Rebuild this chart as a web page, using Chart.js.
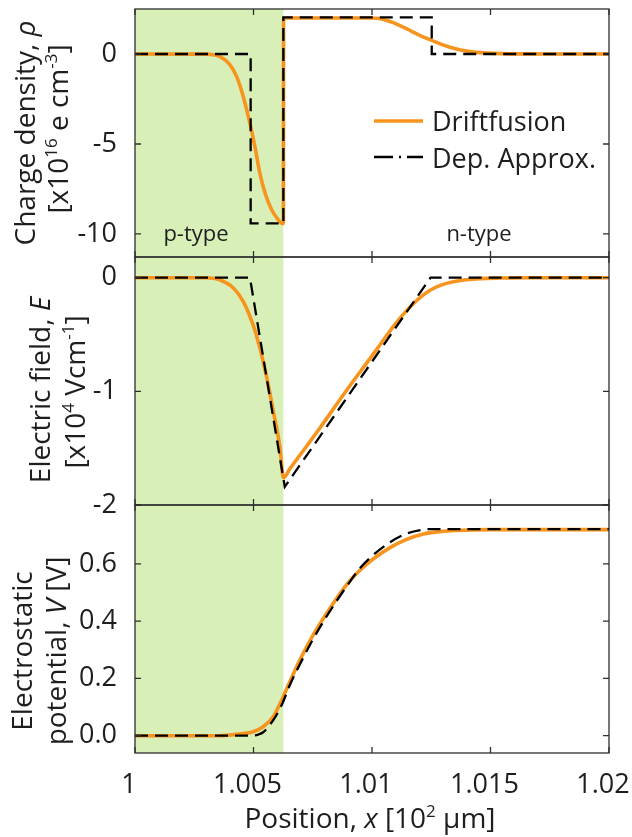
<!DOCTYPE html>
<html>
<head>
<meta charset="utf-8">
<script src="https://cdn.jsdelivr.net/npm/chart.js@4.4.1/dist/chart.umd.min.js"></script>
<style>
  html, body { margin: 0; padding: 0; background: #fff; }
  #wrap { width: 632px; height: 837px; }
</style>
</head>
<body>
<div id="wrap"><canvas id="pn" width="632" height="837"></canvas></div>
<script>
// x axis: position in units of 10^2 um
const xTicks = [1, 1.005, 1.01, 1.015, 1.02];
const xTickLabels = ['1', '1.005', '1.01', '1.015', '1.02'];
const junctionX = 1.00626; // p/n interface, p side shaded

// charge density [x10^16 e cm^-3]
const rhoTicks = [-10, -5, 0];
const rhoDfX = [1.000, 1.0030, 1.0033, 1.00359, 1.00401, 1.00429, 1.00457, 1.00485, 1.00506, 1.00527, 1.00549,
  1.00577, 1.00605, 1.00619, 1.00626, 1.00627, 1.0100, 1.0103, 1.0106, 1.0109, 1.01118, 1.0115, 1.01181, 1.0121,
  1.01252, 1.0129, 1.01329, 1.0137, 1.0140, 1.0144, 1.01484, 1.0155, 1.0165, 1.0175, 1.0200];
const rhoDfY = [0, -0.01, -0.04, -0.15, -0.6, -1.26, -2.37, -3.85, -5.15, -6.63, -7.74,
  -8.67, -9.22, -9.41, -9.42, 2.0, 2.0, 1.97, 1.88, 1.74, 1.58, 1.38, 1.17, 0.98,
  0.76, 0.55, 0.38, 0.24, 0.16, 0.09, 0.05, 0.02, 0.005, 0, 0];
const rhoDaX = [1.000, 1.00488, 1.00488, 1.00626, 1.00626, 1.01252, 1.01252, 1.0200];
const rhoDaY = [0, 0, -9.41, -9.41, 2.03, 2.03, 0, 0];

// electric field [x10^4 V cm^-1]
const eTicks = [-2, -1, 0];
const eDfX = [1.000, 1.0030, 1.0033, 1.00359, 1.00415, 1.00457, 1.00499, 1.00527, 1.00556, 1.00584, 1.00612,
  1.00626, 1.00654, 1.00781, 1.00893, 1.00992, 1.01034, 1.01097, 1.01146, 1.01194, 1.01245, 1.01291, 1.01343,
  1.01397, 1.01456, 1.0154, 1.01667, 1.0200];
const eDfY = [0, 0, -0.005, -0.02, -0.09, -0.21, -0.42, -0.62, -0.88, -1.18, -1.50,
  -1.76, -1.68, -1.32, -0.99, -0.71, -0.59, -0.41, -0.29, -0.19, -0.11, -0.065, -0.035,
  -0.018, -0.008, -0.003, 0, 0];
const eDaX = [1.000, 1.00485, 1.00632, 1.01247, 1.0200];
const eDaY = [0, 0, -1.84, 0, 0];

// electrostatic potential [V]
const vTicks = [0, 0.2, 0.4, 0.6];
const vDfX = [1.000, 1.0036, 1.0042, 1.00499, 1.00541, 1.00584, 1.00619, 1.00654, 1.00696, 1.00752, 1.00809,
  1.00893, 1.00949, 1.01006, 1.01076, 1.01146, 1.01217, 1.01287, 1.01357, 1.01498, 1.0200];
const vDfY = [0, 0, 0.004, 0.014, 0.031, 0.067, 0.125, 0.19, 0.265, 0.352, 0.428,
  0.528, 0.578, 0.618, 0.657, 0.686, 0.705, 0.713, 0.717, 0.72, 0.72];
const vDaX = [1.000, 1.00485, 1.0052, 1.00541, 1.00584, 1.00619, 1.00654, 1.00696, 1.00752, 1.00809, 1.0090,
  1.00949, 1.01006, 1.01076, 1.01146, 1.01217, 1.0125, 1.0200];
const vDaY = [0, 0, 0.004, 0.012, 0.055, 0.107, 0.178, 0.25, 0.338, 0.418, 0.53,
  0.585, 0.632, 0.676, 0.706, 0.72, 0.722, 0.722];

const FONT = '"Open Sans", "DejaVu Sans", sans-serif';
const TEXT = '#1e1e1e';
const ORANGE = '#f7941d';
const SHADE = '#d8f0b8';
const FRAME = '#2e2e2e';

const pts = (xs, ys) => xs.map((x, i) => ({ x: x, y: ys[i] }));

function driftfusion(xs, ys, axis) {
  return {
    label: 'Driftfusion', data: pts(xs, ys), yAxisID: axis,
    borderColor: ORANGE, borderWidth: 3.6, pointRadius: 0,
    cubicInterpolationMode: 'monotone', order: 2
  };
}
function depApprox(xs, ys, axis, smooth) {
  return {
    label: 'Dep. Approx.', data: pts(xs, ys), yAxisID: axis,
    borderColor: '#000', borderWidth: 2.3, borderDash: [13, 7], pointRadius: 0,
    cubicInterpolationMode: smooth ? 'monotone' : 'default', tension: 0, order: 1
  };
}

function panelAxis(min, max, ticks, fmt) {
  return {
    type: 'linear', position: 'left', stack: 'panels', stackWeight: 1,
    min: min, max: max,
    grid: { display: false }, border: { display: false },
    ticks: { font: { family: FONT, size: 27 }, color: TEXT, padding: 10, autoSkip: false, callback: fmt },
    afterBuildTicks: s => { s.ticks = ticks.map(v => ({ value: v })); },
    afterFit: s => { s.width = 135; s.paddingTop = 0; s.paddingBottom = 0; }
  };
}

// draw a line of text with italic / superscript pieces, optionally rotated
function richText(ctx, parts, x, y, size, rotate, align) {
  const fontOf = p => (p[1] === 'i' ? 'italic ' : '') + (p[1] === 'sup' ? Math.round(size * 0.62) : size) + 'px ' + FONT;
  let total = 0;
  const widths = parts.map(p => { ctx.font = fontOf(p); const w = ctx.measureText(p[0]).width; total += w; return w; });
  ctx.save();
  ctx.translate(x, y);
  if (rotate) ctx.rotate(-Math.PI / 2);
  ctx.fillStyle = TEXT;
  ctx.textBaseline = 'alphabetic';
  ctx.textAlign = 'left';
  let cx = align === 'left' ? 0 : -total / 2;
  parts.forEach((p, i) => {
    ctx.font = fontOf(p);
    ctx.fillText(p[0], cx, p[1] === 'sup' ? -size * 0.4 : 0);
    cx += widths[i];
  });
  ctx.restore();
}

const panelDecor = {
  id: 'panelDecor',
  beforeDatasetsDraw(chart) {
    const { ctx, chartArea, scales } = chart;
    const x0 = scales.x.getPixelForValue(1), x1 = scales.x.getPixelForValue(junctionX);
    ctx.save();
    ctx.fillStyle = SHADE;
    ctx.fillRect(x0, chartArea.top, x1 - x0, chartArea.bottom - chartArea.top);
    ctx.restore();
  },
  afterDatasetsDraw(chart) {
    const { ctx, chartArea, scales } = chart;
    const L = chartArea.left, R = chartArea.right, tl = 6;
    ctx.save();
    ctx.strokeStyle = FRAME;
    ctx.lineWidth = 1.3;
    [['yRho', rhoTicks], ['yE', eTicks], ['yV', vTicks]].forEach(([id, yt]) => {
      const s = scales[id];
      ctx.strokeRect(L, s.top, R - L, s.bottom - s.top);
      ctx.beginPath();
      xTicks.forEach(v => {
        const px = scales.x.getPixelForValue(v);
        ctx.moveTo(px, s.top); ctx.lineTo(px, s.top + tl);
        ctx.moveTo(px, s.bottom); ctx.lineTo(px, s.bottom - tl);
      });
      yt.forEach(v => {
        const py = s.getPixelForValue(v);
        ctx.moveTo(L, py); ctx.lineTo(L + tl, py);
        ctx.moveTo(R, py); ctx.lineTo(R - tl, py);
      });
      ctx.stroke();
    });
    ctx.restore();
  },
  afterDraw(chart) {
    const { ctx } = chart;
    // axis titles
    richText(ctx, [['Charge density, ', ''], ['ρ', 'i']], 35, 133, 28, true);
    richText(ctx, [['[x10', ''], ['16', 'sup'], [' e cm', ''], ['-3', 'sup'], [']', '']], 68, 129, 28, true);
    richText(ctx, [['Electric field, ', ''], ['E', 'i']], 50, 390, 28, true);
    richText(ctx, [['[x10', ''], ['4', 'sup'], [' Vcm', ''], ['-1', 'sup'], [']', '']], 85, 392, 28, true);
    richText(ctx, [['Electrostatic', '']], 31.5, 651, 28, true);
    richText(ctx, [['potential, ', ''], ['V', 'i'], [' [V]', '']], 66, 651, 28, true);
    richText(ctx, [['Position, ', ''], ['x', 'i'], [' [10', ''], ['2', 'sup'], [' µm]', '']], 370, 828, 28, false);

    // region labels
    ctx.save();
    ctx.fillStyle = TEXT;
    ctx.font = '22px ' + FONT;
    ctx.textAlign = 'center';
    ctx.textBaseline = 'alphabetic';
    ctx.fillText('p-type', 196, 241);
    ctx.fillText('n-type', 479, 241);

    // legend
    ctx.strokeStyle = ORANGE;
    ctx.lineWidth = 3.6;
    ctx.beginPath(); ctx.moveTo(374, 121); ctx.lineTo(423, 121); ctx.stroke();
    ctx.strokeStyle = '#000';
    ctx.lineWidth = 2.3;
    ctx.setLineDash([19, 6, 2, 6]);
    ctx.beginPath(); ctx.moveTo(374, 157); ctx.lineTo(423, 157); ctx.stroke();
    ctx.setLineDash([]);
    ctx.font = '27px ' + FONT;
    ctx.textAlign = 'left';
    ctx.fillText('Driftfusion', 432, 131);
    ctx.fillText('Dep. Approx.', 432, 168);
    ctx.restore();
  }
};

new Chart(document.getElementById('pn'), {
  type: 'line',
  data: {
    datasets: [
      driftfusion(rhoDfX, rhoDfY, 'yRho'), depApprox(rhoDaX, rhoDaY, 'yRho', false),
      driftfusion(eDfX, eDfY, 'yE'), depApprox(eDaX, eDaY, 'yE', false),
      driftfusion(vDfX, vDfY, 'yV'), depApprox(vDaX, vDaY, 'yV', true)
    ]
  },
  options: {
    responsive: false,
    animation: false,
    devicePixelRatio: 1,
    layout: { padding: { top: 9, right: 23, left: 0, bottom: 0 } },
    plugins: { legend: { display: false }, tooltip: { enabled: false } },
    scales: {
      x: {
        type: 'linear', min: 1, max: 1.02,
        grid: { display: false }, border: { display: false },
        ticks: {
          font: { family: FONT, size: 27 }, color: TEXT, padding: 8, labelOffset: -6,
          maxRotation: 0, autoSkip: false,
          callback: v => xTickLabels[xTicks.indexOf(v)] ?? ''
        },
        afterBuildTicks: s => { s.ticks = xTicks.map(v => ({ value: v })); },
        afterFit: s => { s.height = 84; s.paddingLeft = 0; s.paddingRight = 0; }
      },
      yV: panelAxis(-0.0605, 0.806, vTicks, v => v.toFixed(1)),
      yE: panelAxis(-2, 0.182, eTicks, v => String(v)),
      yRho: panelAxis(-11.28, 2.5, rhoTicks, v => String(v))
    }
  },
  plugins: [panelDecor]
});
</script>
</body>
</html>
